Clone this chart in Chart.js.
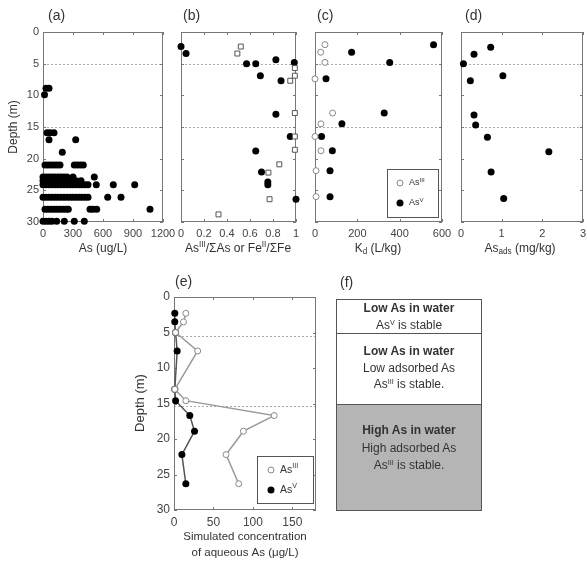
<!DOCTYPE html>
<html>
<head>
<meta charset="utf-8">
<script src="https://cdn.jsdelivr.net/npm/chart.js@4.4.1/dist/chart.umd.min.js"></script>
<style>
  body { margin: 0; background: #fff; }
  .layer { position: absolute; left: 0; top: 0; width: 587px; height: 562px; }
  #f { position: absolute; left: 336px; top: 299px; width: 146px; height: 212px;
       box-sizing: border-box; border: 1px solid #555; color: #333;
       font: 12px "Liberation Sans", Arial, sans-serif; text-align: center; }
  #f div { box-sizing: border-box; }
  #f .r1 { height: 34px; line-height: 16.5px; padding-top: 0; border-bottom: 1px solid #555; }
  #f .r2 { height: 71px; line-height: 16.7px; padding-top: 9px; border-bottom: 1px solid #555; }
  #f .r3 { height: 105px; line-height: 17.5px; padding-top: 17px; background: #b5b5b5; }
  #f sup { font-size: 0.6em; line-height: 0; vertical-align: 0.6em; }
</style>
</head>
<body>
<div class="layer"><canvas id="ca"></canvas></div>
<div class="layer"><canvas id="cb"></canvas></div>
<div class="layer"><canvas id="cc"></canvas></div>
<div class="layer"><canvas id="cd"></canvas></div>
<div class="layer"><canvas id="ce"></canvas></div>
<div id="f">
  <div class="r1"><b>Low As in water</b><br>As<sup>V</sup> is stable</div>
  <div class="r2"><b>Low As in water</b><br>Low adsorbed As<br>As<sup>III</sup> is stable.</div>
  <div class="r3"><b>High As in water</b><br>High adsorbed As<br>As<sup>III</sup> is stable.</div>
</div>
<script>
// (a) dissolved As, one row of samples per depth
const aDepth = [8.9, 9.9, 15.9, 17.0, 19.0, 21.0, 22.9, 23.5, 24.1, 26.1, 28.0, 29.9];
const aConc = [
  [30, 60],
  [15],
  [40, 70, 110],
  [60, 327],
  [193],
  [20, 50, 80, 110, 140, 170, 313, 343, 373, 403],
  [0, 30, 60, 90, 120, 150, 180, 210, 240, 300, 513],
  [0, 30, 60, 90, 120, 150, 180, 210, 240, 270, 330, 380],
  [0, 30, 60, 90, 120, 150, 180, 210, 240, 270, 300, 330, 360, 390, 420, 450, 533, 703, 917],
  [0, 30, 60, 90, 120, 150, 180, 210, 240, 270, 300, 330, 360, 390, 420, 450, 647, 780],
  [20, 50, 80, 110, 140, 170, 200, 230, 253, 470, 500, 537, 1070],
  [0, 30, 60, 90, 137, 213, 313, 413]
];

// (b) redox ratios
const bFilledX = [0, 0.044, 0.57, 0.65, 0.825, 0.985, 0.69, 0.87, 0.825, 0.95, 0.65, 0.70, 0.755, 0.755, 1.0];
const bFilledY = [2.3, 3.4, 5.0, 5.0, 4.4, 4.8, 6.9, 7.7, 13.0, 16.5, 18.8, 22.1, 23.7, 24.1, 26.4];
const bOpenX = [0.52, 0.49, 0.99, 0.99, 0.95, 0.99, 0.99, 0.99, 0.855, 0.76, 0.77, 0.326];
const bOpenY = [2.3, 3.4, 5.7, 6.9, 7.7, 12.8, 16.5, 18.6, 20.9, 22.2, 26.4, 28.8];

// (c) Kd
const cDepth = [2.0, 3.2, 4.8, 7.4, 12.8, 14.5, 16.5, 18.75, 21.9, 26.0];
const cAs3 = [47, 27, 47, 0, 83, 28, 0, 28, 5, 5];
const cAs5 = [560, 173, 353, 52, 327, 127, 31, 82, 71, 71];

// (d) adsorbed As
const dDepth = [2.4, 3.5, 5.0, 6.9, 7.7, 13.1, 14.7, 16.6, 18.9, 22.1, 26.3];
const dAds = [0.73, 0.32, 0.06, 1.03, 0.23, 0.32, 0.36, 0.65, 2.16, 0.74, 1.05];

// (e) simulated aqueous As
const eDepth = [2.3, 3.5, 5.0, 7.6, 13.0, 14.6, 16.7, 18.9, 22.2, 26.3];
const eAs3 = [15, 12, 2, 30, 1, 15, 127, 88, 66, 82];
const eAs5 = [1, 1, 2, 4, 1, 2, 20, 26, 10, 15];

const W = 587, H = 562;
const FONT = '"Liberation Sans", Arial, sans-serif';
const TXT = '#333';

const pairs = (xs, ys) => xs.map((v, i) => ({ x: v, y: ys[i] }));

function drawRich(ctx, parts, x, y, size, align, bold) {
  const fontFor = m => (bold ? 'bold ' : '') + (m ? size * 0.68 : size) + 'px ' + FONT;
  let total = 0;
  parts.forEach(([t, m]) => { ctx.font = fontFor(m); total += ctx.measureText(t).width; });
  let cx = align === 'left' ? x : align === 'right' ? x - total : x - total / 2;
  ctx.textBaseline = 'middle';
  ctx.textAlign = 'left';
  parts.forEach(([t, m]) => {
    ctx.font = fontFor(m);
    const dy = m === 'sup' ? -size * 0.35 : m === 'sub' ? size * 0.25 : 0;
    ctx.fillText(t, cx, y + dy);
    cx += ctx.measureText(t).width;
  });
}

function marker(ctx, x, y, open) {
  ctx.beginPath();
  ctx.arc(x, y, open ? 3 : 3.5, 0, Math.PI * 2);
  if (open) {
    ctx.fillStyle = '#fff'; ctx.fill();
    ctx.strokeStyle = '#888'; ctx.lineWidth = 1; ctx.stroke();
  } else {
    ctx.fillStyle = '#000'; ctx.fill();
  }
}

const as3 = [['As'], ['III', 'sup']];
const as5 = [['As'], ['V', 'sup']];

const decorCfg = {
  ca: { dashes: [5, 15], texts: [
    { parts: [['(a)']], x: 48, y: 16, size: 14, align: 'left' },
    { parts: [['Depth (m)']], x: 14, y: 127, size: 12, rotate: true },
    { parts: [['As (ug/L)']], x: 103, y: 249, size: 12 }
  ]},
  cb: { dashes: [5, 15], texts: [
    { parts: [['(b)']], x: 183, y: 16, size: 14, align: 'left' },
    { parts: [['As'], ['III', 'sup'], ['/\u03A3As or Fe'], ['II', 'sup'], ['/\u03A3Fe']], x: 238, y: 249, size: 12 }
  ]},
  cc: { dashes: [5, 15], texts: [
    { parts: [['(c)']], x: 317, y: 16, size: 14, align: 'left' },
    { parts: [['K'], ['d', 'sub'], [' (L/kg)']], x: 378, y: 249, size: 12 }
  ], legend: { box: [387, 169, 51, 48], mx: 400, tx: 409, size: 9,
    items: [{ open: true, y: 183, parts: as3 }, { open: false, y: 203, parts: as5 }] } },
  cd: { dashes: [5, 15], texts: [
    { parts: [['(d)']], x: 465, y: 16, size: 14, align: 'left' },
    { parts: [['As'], ['ads', 'sub'], [' (mg/kg)']], x: 520, y: 249, size: 12 }
  ]},
  ce: { dashes: [5.5, 15.4], texts: [
    { parts: [['(e)']], x: 175, y: 282, size: 14, align: 'left' },
    { parts: [['(f)']], x: 340, y: 283, size: 14, align: 'left' },
    { parts: [['Depth (m)']], x: 140, y: 403, size: 13, rotate: true },
    { parts: [['Simulated concentration']], x: 245, y: 537, size: 11.5 },
    { parts: [['of aqueous As (\u03BCg/L)']], x: 245, y: 553, size: 11.5 }
  ], legend: { box: [257, 456, 56, 47], mx: 271, tx: 280, size: 10.5,
    items: [{ open: true, y: 470, parts: as3 }, { open: false, y: 490, parts: as5 }] } }
};

const decor = {
  id: 'decor',
  beforeDatasetsDraw(chart) {
    const cfg = decorCfg[chart.canvas.id];
    const { ctx, chartArea: a, scales: { x, y } } = chart;
    ctx.save();
    ctx.lineWidth = 1;
    ctx.strokeStyle = '#aaa';
    ctx.setLineDash([2, 2]);
    cfg.dashes.forEach(d => {
      const py = Math.round(y.getPixelForValue(d)) + 0.5;
      ctx.beginPath(); ctx.moveTo(a.left, py); ctx.lineTo(a.right, py); ctx.stroke();
    });
    ctx.setLineDash([]);
    ctx.strokeStyle = '#777';
    ctx.strokeRect(Math.round(a.left) + 0.5, Math.round(a.top) + 0.5,
                   Math.round(a.width) - 1, Math.round(a.height) - 1);
    // MATLAB-style inner ticks on all four sides
    ctx.beginPath();
    x.ticks.forEach(t => {
      const px = Math.round(x.getPixelForValue(t.value)) + 0.5;
      ctx.moveTo(px, a.bottom); ctx.lineTo(px, a.bottom - 3);
      ctx.moveTo(px, a.top); ctx.lineTo(px, a.top + 3);
    });
    y.ticks.forEach(t => {
      const py = Math.round(y.getPixelForValue(t.value)) + 0.5;
      ctx.moveTo(a.left, py); ctx.lineTo(a.left + 3, py);
      ctx.moveTo(a.right, py); ctx.lineTo(a.right - 3, py);
    });
    ctx.stroke();
    ctx.restore();
  },
  afterDraw(chart) {
    const cfg = decorCfg[chart.canvas.id];
    const ctx = chart.ctx;
    ctx.save();
    ctx.fillStyle = TXT;
    cfg.texts.forEach(t => {
      if (t.rotate) {
        ctx.save();
        ctx.translate(t.x, t.y);
        ctx.rotate(-Math.PI / 2);
        drawRich(ctx, t.parts, 0, 0, t.size, 'center');
        ctx.restore();
      } else {
        drawRich(ctx, t.parts, t.x, t.y, t.size, t.align || 'center');
      }
    });
    const lg = cfg.legend;
    if (lg) {
      ctx.strokeStyle = '#555';
      ctx.lineWidth = 1;
      ctx.fillStyle = '#fff';
      ctx.fillRect(lg.box[0], lg.box[1], lg.box[2], lg.box[3]);
      ctx.strokeRect(lg.box[0] + 0.5, lg.box[1] + 0.5, lg.box[2], lg.box[3]);
      lg.items.forEach(it => {
        marker(ctx, lg.mx, it.y, it.open);
        ctx.fillStyle = TXT;
        drawRich(ctx, it.parts, lg.tx, it.y, lg.size, 'left');
      });
    }
    ctx.restore();
  }
};

function axis(opts, isX, xH, yW) {
  const tickOpts = Object.assign({
    font: { size: 11, family: FONT }, color: '#444', padding: 4,
    maxRotation: 0, autoSkip: false, includeBounds: false,
    // plain numbers, no thousands separator, 1 instead of 1.0
    callback: v => String(Math.round(v * 100) / 100)
  }, opts.ticks || {});
  return Object.assign({}, opts, {
    type: 'linear',
    position: isX ? 'bottom' : 'left',
    grid: { display: false, drawTicks: false },
    border: { display: false },
    ticks: tickOpts,
    afterFit(s) {
      if (isX) { s.height = xH; s.paddingLeft = 0; s.paddingRight = 0; }
      else { s.width = yW; s.paddingTop = 0; s.paddingBottom = 0; }
    }
  });
}

function makePanel(id, area, xOpts, yOpts, datasets) {
  const yW = 40, xH = 40;
  return new Chart(document.getElementById(id), {
    type: 'scatter',
    data: { datasets },
    options: {
      responsive: true,
      maintainAspectRatio: false,
      animation: false,
      layout: { padding: { left: area.l - yW, top: area.t, right: W - area.r, bottom: H - area.b - xH } },
      plugins: { legend: { display: false }, tooltip: { enabled: false } },
      scales: { x: axis(xOpts, true, xH, yW), y: axis(yOpts, false, xH, yW) }
    },
    plugins: [decor]
  });
}

const filled = { pointRadius: 3.5, pointBackgroundColor: '#000', pointBorderColor: '#000', pointBorderWidth: 0, clip: false };
const openC = { pointRadius: 3, pointBackgroundColor: '#fff', pointBorderColor: '#888', pointBorderWidth: 1, clip: false };
const depthAxis = { min: 0, max: 30, reverse: true, ticks: { stepSize: 5 } };
const depthAxisBare = { min: 0, max: 30, reverse: true, ticks: { stepSize: 5, display: false } };

makePanel('ca', { l: 43, t: 32, r: 163, b: 222 },
  { min: 0, max: 1200, ticks: { stepSize: 300, padding: 5 } }, depthAxis,
  [Object.assign({ data: aConc.flatMap((row, i) => row.map(v => ({ x: v, y: aDepth[i] }))) }, filled)]);

makePanel('cb', { l: 181, t: 32, r: 296, b: 222 },
  { min: 0, max: 1, ticks: { stepSize: 0.2, padding: 5 } }, depthAxisBare,
  [Object.assign({ data: pairs(bOpenX, bOpenY) }, openC,
      { pointStyle: 'rect', pointRadius: 3.5, pointBorderColor: '#555' }),
   Object.assign({ data: pairs(bFilledX, bFilledY) }, filled)]);

makePanel('cc', { l: 315, t: 32, r: 442, b: 222 },
  { min: 0, max: 600, ticks: { stepSize: 200, padding: 5 } }, depthAxisBare,
  [Object.assign({ data: pairs(cAs3, cDepth) }, openC),
   Object.assign({ data: pairs(cAs5, cDepth) }, filled)]);

makePanel('cd', { l: 461, t: 32, r: 584, b: 222 },
  { min: 0, max: 3, ticks: { stepSize: 1, padding: 5 } }, depthAxisBare,
  [Object.assign({ data: pairs(dAds, dDepth) }, filled)]);

makePanel('ce', { l: 174, t: 297, r: 316, b: 510 },
  { min: 0, max: 180, ticks: { stepSize: 50, padding: 5, font: { size: 12, family: FONT } } },
  Object.assign({}, depthAxis, { ticks: { stepSize: 5, font: { size: 12, family: FONT } } }),
  [Object.assign({ data: pairs(eAs3, eDepth), showLine: true, borderColor: '#999', borderWidth: 1.5 }, openC),
   Object.assign({ data: pairs(eAs5, eDepth), showLine: true, borderColor: '#555', borderWidth: 1.5 }, filled)]);
</script>
</body>
</html>
